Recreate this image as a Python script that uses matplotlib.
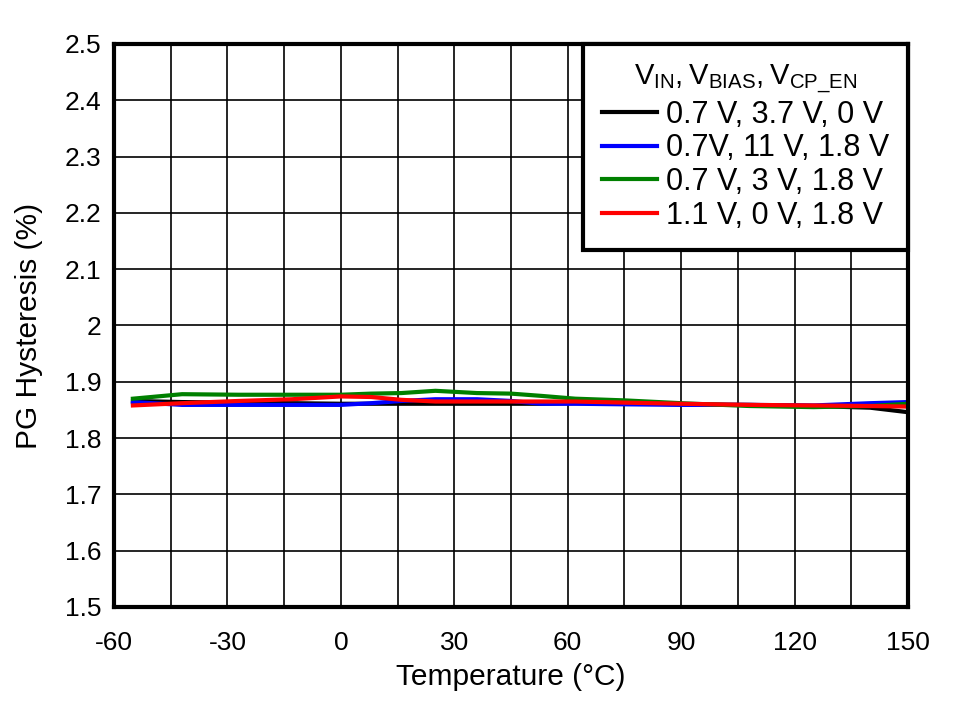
import numpy as np
import matplotlib
matplotlib.use('Agg')
import matplotlib.pyplot as plt

plt.rcParams['font.family'] = ['Liberation Sans', 'DejaVu Sans']
plt.rcParams['mathtext.fontset'] = 'custom'
plt.rcParams['mathtext.rm'] = 'Liberation Sans'
plt.rcParams['axes.unicode_minus'] = False

# temperature (°C)
temp = [-55, -42, -27, -13, 0, 8, 16, 25, 36, 45, 53, 62, 75, 90, 108, 125, 140, 150]

hyst_black = [1.866, 1.864, 1.863, 1.862, 1.861, 1.861, 1.861, 1.861, 1.861, 1.861, 1.861, 1.862, 1.862, 1.860, 1.859, 1.857, 1.854, 1.846]
hyst_blue = [1.864, 1.859, 1.859, 1.859, 1.859, 1.862, 1.866, 1.869, 1.869, 1.866, 1.861, 1.861, 1.860, 1.859, 1.859, 1.858, 1.862, 1.864]
hyst_green = [1.870, 1.878, 1.877, 1.877, 1.877, 1.879, 1.880, 1.884, 1.880, 1.879, 1.875, 1.870, 1.867, 1.862, 1.857, 1.855, 1.857, 1.861]
hyst_red = [1.858, 1.862, 1.866, 1.869, 1.874, 1.873, 1.868, 1.865, 1.865, 1.865, 1.865, 1.865, 1.863, 1.861, 1.859, 1.858, 1.857, 1.856]

labels = ['0.7 V, 3.7 V, 0 V', '0.7V, 11 V, 1.8 V', '0.7 V, 3 V, 1.8 V', '1.1 V, 0 V, 1.8 V']
colors = ['black', 'blue', 'green', 'red']

fig = plt.figure(figsize=(9.56, 7.01), dpi=100)
ax = fig.add_axes([114 / 956, 1 - 607 / 701, (908 - 114) / 956, (607 - 44) / 701])

for y, c, lab in zip([hyst_black, hyst_blue, hyst_green, hyst_red], colors, labels):
    ax.plot(temp, y, color=c, lw=3, label=lab)

ax.set_xlim(-60, 150)
ax.set_ylim(1.5, 2.5)
ax.set_xticks(np.arange(-60, 151, 15), minor=True)
ax.set_xticks(np.arange(-60, 151, 30))
ax.set_yticks(np.arange(1.5, 2.51, 0.1))
ax.set_yticklabels(['1.5', '1.6', '1.7', '1.8', '1.9', '2', '2.1', '2.2', '2.3', '2.4', '2.5'])
ax.grid(True, which='both', color='black', lw=1.2)
ax.tick_params(which='both', length=0, labelsize=19)
ax.tick_params(axis='x', pad=17)
ax.tick_params(axis='y', pad=9)
for s in ax.spines.values():
    s.set_linewidth(3)

ax.set_xlabel('Temperature (°C)', fontsize=21.5, labelpad=6)
ax.set_ylabel('PG Hysteresis (%)', fontsize=21.5, labelpad=16)

leg = ax.legend(title=r'$\mathregular{V_{IN}, V_{BIAS}, V_{CP\_EN}}$', loc='upper right',
                fontsize=22, title_fontsize=21, frameon=True, fancybox=False,
                framealpha=1, edgecolor='black', borderaxespad=0, handlelength=1.8,
                handletextpad=0.3, labelspacing=0.12, borderpad=0.62)
leg.get_frame().set_linewidth(3)

fig.savefig('out.png', dpi=100)
